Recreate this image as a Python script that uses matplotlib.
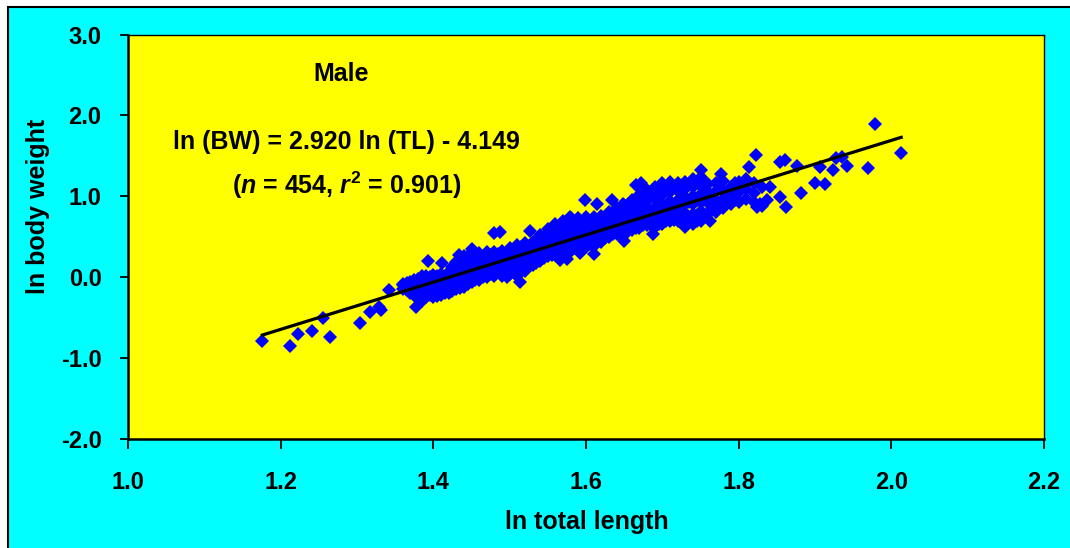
import numpy as np
import matplotlib
matplotlib.use("Agg")
import matplotlib.pyplot as plt
from matplotlib.patches import Rectangle
from matplotlib.ticker import FormatStrFormatter

plt.rcParams['font.family'] = ['Liberation Sans', 'DejaVu Sans']
plt.rcParams['font.weight'] = 'bold'
plt.rcParams['mathtext.fontset'] = 'custom'
plt.rcParams['mathtext.rm'] = 'Liberation Sans:bold'
plt.rcParams['mathtext.bf'] = 'Liberation Sans:bold'
plt.rcParams['mathtext.it'] = 'Liberation Sans:italic:bold'

# regression: ln(BW) = a ln(TL) + b
slope = 2.920
intercept = -4.149
n_fish = 454
r_sq = 0.901

# dense part of the cloud, grouped by ln(TL)
band_tl = [1.360, 1.365, 1.370, 1.375, 1.380, 1.385, 1.390, 1.395, 1.400, 1.405,
           1.410, 1.415, 1.420, 1.425, 1.430, 1.435, 1.440, 1.445,
           1.450, 1.455, 1.460, 1.465, 1.470, 1.475, 1.480, 1.485, 1.490, 1.495,
           1.500, 1.505, 1.510, 1.515, 1.520, 1.525, 1.530, 1.535, 1.540, 1.545,
           1.550, 1.555, 1.560, 1.565, 1.570, 1.575, 1.580, 1.585, 1.590, 1.595,
           1.600, 1.605, 1.610, 1.615, 1.620, 1.625, 1.630, 1.635, 1.640, 1.645,
           1.650, 1.655, 1.660, 1.665, 1.670, 1.675, 1.680, 1.685, 1.690, 1.695,
           1.700, 1.705, 1.710, 1.715, 1.720, 1.725, 1.730, 1.735, 1.740, 1.745,
           1.750, 1.755,
           1.760, 1.765, 1.770, 1.775, 1.780, 1.790, 1.795, 1.800, 1.810, 1.820, 1.830]
band_bw = [
    [-0.14, -0.10, -0.08], [-0.16, -0.12, -0.07], [-0.19, -0.15, -0.11, -0.06],
    [-0.22, -0.13, -0.04], [-0.27, -0.20, -0.14, -0.09, -0.02], [-0.29, -0.18, -0.10, 0.01],
    [-0.24, -0.17, -0.12, -0.05, 0.02], [-0.22, -0.14, -0.07, 0.00],
    [-0.25, -0.19, -0.11, -0.06, 0.03], [-0.23, -0.15, -0.04, 0.02],
    [-0.22, -0.16, -0.09, -0.03, 0.04], [-0.20, -0.12, -0.05, 0.01],
    [-0.20, -0.13, -0.06, 0.00, 0.06], [-0.17, -0.09, -0.02, 0.05, 0.12],
    [-0.15, -0.08, 0.00, 0.04, 0.10, 0.19], [-0.13, -0.05, 0.03, 0.09, 0.15],
    [-0.12, -0.04, 0.02, 0.07, 0.13, 0.21, 0.26], [-0.08, 0.00, 0.06, 0.11, 0.18],
    [-0.06, 0.03, 0.10, 0.16, 0.23, 0.31], [-0.03, 0.09, 0.20],
    [-0.04, 0.05, 0.12, 0.18, 0.24, 0.30], [0.00, 0.12, 0.22],
    [0.00, 0.08, 0.14, 0.20, 0.26, 0.31], [0.04, 0.15, 0.27],
    [0.01, 0.09, 0.15, 0.21, 0.26, 0.31], [0.06, 0.18, 0.29],
    [0.02, 0.11, 0.17, 0.23, 0.28, 0.32], [0.07, 0.19, 0.30],
    [0.04, 0.12, 0.19, 0.25, 0.31, 0.36], [0.08, 0.21, 0.34],
    [0.02, 0.13, 0.21, 0.28, 0.34, 0.40], [0.10, 0.24, 0.37],
    [0.08, 0.17, 0.24, 0.31, 0.37, 0.42], [0.14, 0.27, 0.39],
    [0.15, 0.23, 0.29, 0.34, 0.39, 0.43], [0.18, 0.30, 0.44],
    [0.20, 0.27, 0.33, 0.39, 0.45, 0.52], [0.24, 0.36, 0.50],
    [0.26, 0.32, 0.38, 0.44, 0.51, 0.60], [0.28, 0.40, 0.55],
    [0.28, 0.35, 0.41, 0.48, 0.56, 0.66], [0.31, 0.43, 0.60],
    [0.30, 0.37, 0.44, 0.50, 0.58, 0.70], [0.34, 0.47, 0.64],
    [0.33, 0.40, 0.46, 0.53, 0.61, 0.73], [0.36, 0.49, 0.67],
    [0.36, 0.43, 0.49, 0.56, 0.63, 0.73], [0.39, 0.52, 0.68],
    [0.37, 0.45, 0.52, 0.58, 0.65, 0.74], [0.41, 0.55, 0.70],
    [0.39, 0.47, 0.54, 0.60, 0.67, 0.74], [0.44, 0.58, 0.71],
    [0.44, 0.51, 0.57, 0.63, 0.70, 0.76], [0.48, 0.61, 0.75],
    [0.50, 0.56, 0.61, 0.66, 0.73, 0.81], [0.53, 0.64, 0.78],
    [0.54, 0.60, 0.65, 0.70, 0.77, 0.85], [0.54, 0.67, 0.82],
    [0.52, 0.60, 0.67, 0.72, 0.80, 0.89], [0.57, 0.70, 0.86],
    [0.58, 0.65, 0.71, 0.77, 0.85, 0.95], [0.61, 0.73, 0.92],
    [0.61, 0.68, 0.74, 0.80, 0.89, 1.02], [0.64, 0.77, 0.97],
    [0.64, 0.72, 0.78, 0.85, 0.94, 1.08], [0.64, 0.80, 1.02],
    [0.62, 0.71, 0.79, 0.87, 0.98, 1.12], [0.66, 0.83, 1.06],
    [0.66, 0.75, 0.83, 0.91, 1.02, 1.16], [0.69, 0.86, 1.10],
    [0.69, 0.78, 0.86, 0.94, 1.05, 1.18], [0.71, 0.89, 1.12],
    [0.70, 0.79, 0.88, 0.96, 1.06, 1.16], [0.70, 0.92, 1.13],
    [0.68, 0.79, 0.90, 0.99, 1.09, 1.18], [0.68, 0.93, 1.15],
    [0.66, 0.78, 0.90, 1.00, 1.11, 1.22], [0.70, 0.95, 1.18],
    [0.70, 0.82, 0.93, 1.03, 1.13, 1.24], [0.75, 0.98, 1.18],
    [0.78, 0.92, 1.05, 1.15], [0.84, 1.00], [0.80, 0.93, 1.06, 1.16], [0.88, 1.10],
    [0.85, 0.97, 1.08, 1.19], [0.90, 1.01, 1.12], [0.96, 1.16], [0.93, 1.05, 1.18],
    [0.97, 1.09, 1.21], [0.93, 1.04, 1.17], [0.88, 1.12],
]

# scattered fish away from the main band
out_tl = [1.176, 1.212, 1.223, 1.241, 1.255, 1.264, 1.304, 1.317, 1.329, 1.331,
          1.342, 1.377, 1.393, 1.411, 1.434, 1.450, 1.479, 1.487, 1.527, 1.514,
          1.496, 1.566, 1.579, 1.566, 1.575, 1.592, 1.610, 1.599, 1.614, 1.634,
          1.649, 1.666, 1.672, 1.650, 1.688, 1.730, 1.762, 1.751, 1.777, 1.813,
          1.823, 1.824, 1.828, 1.837, 1.841, 1.854, 1.854, 1.861, 1.862, 1.877,
          1.882, 1.900, 1.907, 1.913, 1.923, 1.928, 1.935, 1.942, 1.969, 1.978, 2.013]
out_bw = [-0.79, -0.85, -0.70, -0.67, -0.50, -0.74, -0.565, -0.43, -0.37, -0.40,
          -0.16, -0.37, 0.20, 0.18, 0.27, 0.35, 0.55, 0.56, 0.57, -0.06,
          0.00, 0.64, 0.75, 0.21, 0.23, 0.30, 0.29, 0.95, 0.91, 0.95,
          0.91, 1.14, 1.16, 0.45, 0.54, 0.62, 0.70, 1.32, 1.28, 1.36,
          1.51, 0.87, 0.91, 0.95, 1.12, 0.99, 1.43, 1.45, 0.87, 1.38,
          1.04, 1.16, 1.36, 1.15, 1.33, 1.47, 1.49, 1.37, 1.35, 1.89, 1.53]

ln_tl = []
ln_bw = []
for tl, bws in zip(band_tl, band_bw):
    for bw in bws:
        ln_tl.append(tl)
        ln_bw.append(bw)
ln_tl = np.array(ln_tl + out_tl)
ln_bw = np.array(ln_bw + out_bw)

fig = plt.figure(figsize=(10.70, 5.48), dpi=100, facecolor='white')
# cyan chart area with a black frame, clipped at right and bottom
fig.patches.append(Rectangle((8 / 1070, -0.05), 1.1, 1.05 - 7 / 548,
                             transform=fig.transFigure, facecolor='#00FFFF',
                             edgecolor='black', linewidth=1.5, zorder=-10))

ax = fig.add_axes([128 / 1070, 1 - 439 / 548, 916 / 1070, 404.5 / 548])
ax.set_facecolor('#FFFF00')

ax.plot(ln_tl, ln_bw, 'D', color='#0000FF', markersize=6.8, markeredgewidth=0, zorder=2)

xfit = np.array([ln_tl.min(), ln_tl.max()])
ax.plot(xfit, slope * xfit + intercept, color='black', linewidth=2.3, zorder=3)

ax.set_xlim(1.0, 2.2)
ax.set_ylim(-2.0, 3.0)
ax.set_xticks(np.arange(1.0, 2.21, 0.2))
ax.set_yticks(np.arange(-2.0, 3.01, 1.0))
ax.xaxis.set_major_formatter(FormatStrFormatter('%.1f'))
ax.yaxis.set_major_formatter(FormatStrFormatter('%.1f'))
ax.tick_params(axis='x', direction='out', length=7, width=1.3, pad=16, labelsize=17)
ax.tick_params(axis='y', direction='out', length=6, width=1.3, pad=13, labelsize=17)

for side in ['left', 'bottom']:
    ax.spines[side].set_linewidth(1.8)
for side in ['top', 'right']:
    ax.spines[side].set_linewidth(1.0)

ax.set_xlabel('ln total length', fontsize=18, fontweight='bold')
ax.xaxis.set_label_coords(0.501, -0.175)
ax.set_ylabel('ln body weight', fontsize=18, fontweight='bold')
ax.yaxis.set_label_coords(-0.085, 0.576)

ax.text(1.279, 2.51, 'Male', fontsize=18, fontweight='bold', ha='center', va='center')
ax.text(1.286, 1.67, f'ln (BW) = {slope:.3f} ln (TL) - {abs(intercept):.3f}',
        fontsize=18, fontweight='bold', ha='center', va='center')
ax.text(1.286, 1.14, f'($\\mathit{{n}}$ = {n_fish}, $\\mathit{{r}}^{{2}}$ = {r_sq:.3f})',
        fontsize=18, fontweight='bold', ha='center', va='center')

fig.savefig('out.png', dpi=100, facecolor=fig.get_facecolor())
